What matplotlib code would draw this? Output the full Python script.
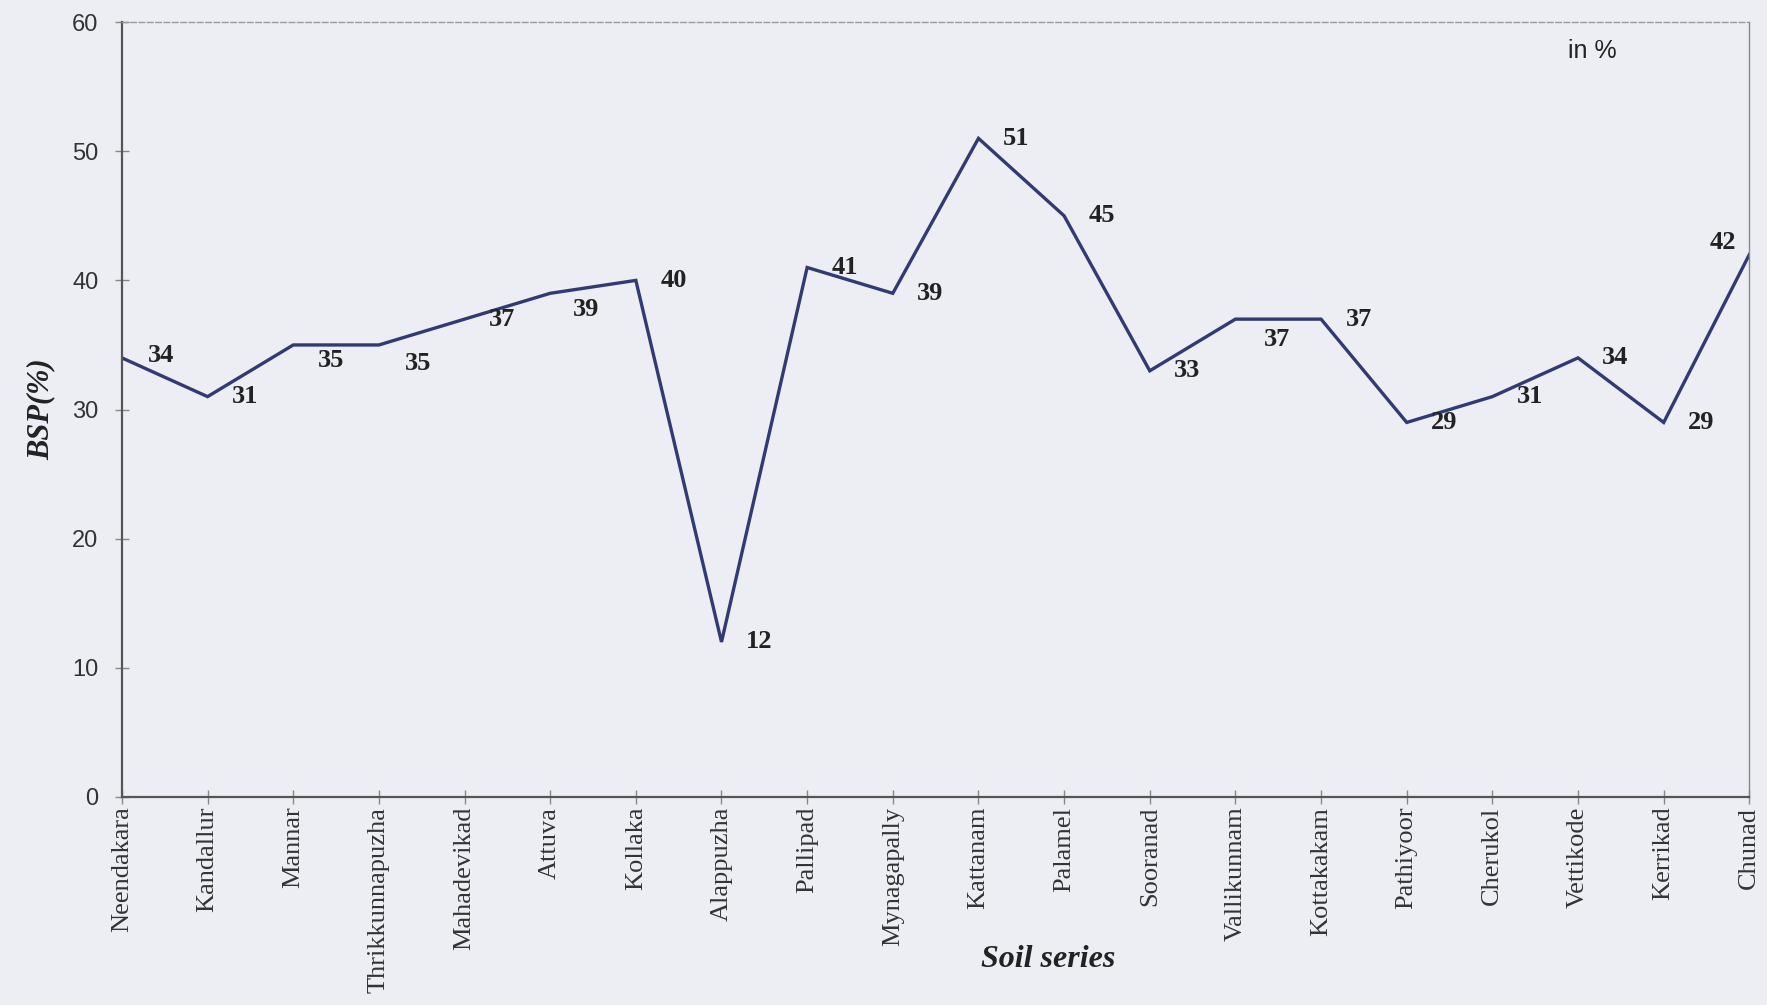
import matplotlib
matplotlib.use("Agg")
import matplotlib.pyplot as plt

# BSP of soil series
series = ["Neendakara", "Kandallur", "Mannar", "Thrikkunnapuzha", "Mahadevikad",
          "Attuva", "Kollaka", "Alappuzha", "Pallipad", "Mynagapally",
          "Kattanam", "Palamel", "Sooranad", "Vallikunnam", "Kottakakam",
          "Pathiyoor", "Cherukol", "Vettikode", "Kerrikad", "Chunad"]
bsp = [34, 31, 35, 35, 37, 39, 40, 12, 41, 39,
       51, 45, 33, 37, 37, 29, 31, 34, 29, 42]
y_ticks = [0, 10, 20, 30, 40, 50, 60]

bg = "#eceef3"
line_col = "#323a72"
serif = ["Liberation Serif", "DejaVu Serif"]
sans = ["Liberation Sans", "DejaVu Sans"]

fig = plt.figure(figsize=(17.67, 10.05), dpi=100, facecolor=bg)
ax = fig.add_axes([0.069, 0.207, 0.921, 0.771], facecolor=bg)

x = list(range(len(series)))
ax.plot(x, bsp, color=line_col, lw=2.4, solid_joinstyle="miter")

# label offsets in points, a few labels sit lower or on the left
offsets = {0: (28, 2), 2: (27, -11), 3: (28, -13), 5: (26, -12),
           13: (30, -15), 19: (-19, 9)}
for i, v in enumerate(bsp):
    dx, dy = offsets.get(i, (27, 0))
    ax.annotate(str(v), (i, v), xytext=(dx, dy), textcoords="offset points",
                ha="center", va="center", fontsize=19, fontweight="bold",
                family=serif, color="#222222")

ax.set_xlim(0, len(series) - 1)
ax.set_ylim(0, 60)
ax.set_yticks(y_ticks)
ax.set_xticks(x)
ax.set_xticklabels(series, rotation=90, family=serif, fontsize=19, color="#333333")
for lab in ax.get_yticklabels():
    lab.set_family(sans)
    lab.set_fontsize(17)
    lab.set_color("#333333")
ax.tick_params(axis="both", direction="inout", length=10, width=1, color="#888888")
ax.tick_params(axis="x", pad=2)
ax.tick_params(axis="y", pad=12)

for s in ["left", "bottom"]:
    ax.spines[s].set_color("#555555")
    ax.spines[s].set_linewidth(1.6)
ax.spines["top"].set_color("#999999")
ax.spines["top"].set_linestyle((0, (4, 2)))
ax.spines["top"].set_linewidth(1)
ax.spines["right"].set_color("#888888")
ax.spines["right"].set_linewidth(1)

ax.set_ylabel("BSP(%)", family=serif, fontsize=22, fontweight="bold",
              style="italic", color="#222222", labelpad=12)
fig.text(0.593, 0.045, "Soil series", family=serif, fontsize=23,
         fontweight="bold", style="italic", color="#222222", ha="center", va="center")
ax.text(0.9035, 0.963, "in %", transform=ax.transAxes, family=sans, fontsize=18,
        color="#222222", ha="center", va="center")

fig.savefig("out.png", dpi=100, facecolor=bg)
